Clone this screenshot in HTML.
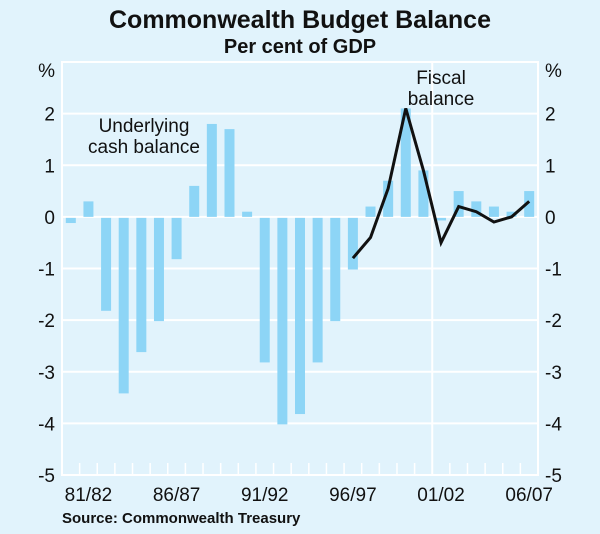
<!DOCTYPE html>
<html><head><meta charset="utf-8"><style>
body{margin:0;background:#e1f3fc;}
svg{display:block;font-family:"Liberation Sans",Arial,sans-serif;}
</style></head><body>
<svg id="c" width="600" height="534">
<rect width="600" height="534" fill="#e1f3fc"/>
<text x="300" y="28" text-anchor="middle" font-size="25" font-weight="bold" fill="#111">Commonwealth Budget Balance</text>
<text x="300" y="53" text-anchor="middle" font-size="20" font-weight="bold" fill="#111">Per cent of GDP</text>
<g id="grid"></g><g id="bars"></g><g id="line"></g><g id="axes"></g>
<text x="144" y="132" text-anchor="middle" font-size="19" fill="#111">Underlying</text>
<text x="144" y="153" text-anchor="middle" font-size="19" fill="#111">cash balance</text>
<text x="441" y="84" text-anchor="middle" font-size="19" fill="#111">Fiscal</text>
<text x="441" y="105" text-anchor="middle" font-size="19" fill="#111">balance</text>
<text x="62" y="523" font-size="15" font-weight="bold" fill="#111">Source: Commonwealth Treasury</text>
</svg>
<script>
const years = ["80/81","81/82","82/83","83/84","84/85","85/86","86/87","87/88","88/89","89/90","90/91","91/92","92/93","93/94","94/95","95/96","96/97","97/98","98/99","99/00","00/01","01/02","02/03","03/04","04/05","05/06","06/07"];
const cashBalance = [-0.1,0.3,-1.8,-3.4,-2.6,-2.0,-0.8,0.6,1.8,1.7,0.1,-2.8,-4.0,-3.8,-2.8,-2.0,-1.0,0.2,0.7,2.1,0.9,-0.05,0.5,0.3,0.2,0.1,0.5];
const fiscalStart = 16;
const fiscalBalance = [-0.8,-0.4,0.55,2.1,0.9,-0.5,0.2,0.1,-0.1,0,0.3];
const yTicks = [-5,-4,-3,-2,-1,0,1,2];
const xLabels = ["81/82","86/87","91/92","96/97","01/02","06/07"];
const NS="http://www.w3.org/2000/svg";
const L=62,R=538,T=62,B=475,ymin=-5,ymax=3;
const bw=(R-L)/years.length;
function xc(i){return L+bw*(i+0.5);}
function y(v){return B-(v-ymin)/(ymax-ymin)*(B-T);}
function mk(tag,attrs,parent){const e=document.createElementNS(NS,tag);for(const k in attrs)e.setAttribute(k,attrs[k]);document.getElementById(parent).appendChild(e);return e;}
const g=mk('rect',{x:L,y:T,width:R-L,height:B-T,fill:'none',stroke:'#fff','stroke-width':2},'grid');


yTicks.forEach(v=>{
  const l=mk('line',{x1:L,x2:R,y1:y(v),y2:y(v),stroke:'#fff','stroke-width':2},'grid');
  
  
  const a=mk('text',{x:L-7,y:y(v)+7,'text-anchor':'end','font-size':19,fill:'#111'},'axes');a.textContent=v;
  
  
  const b=mk('text',{x:R+7,y:y(v)+7,'font-size':19,fill:'#111'},'axes');b.textContent=v;
  
  
});
[["%",L-7,'end'],["%",R+7,'start']].forEach(p=>{const t=mk('text',{x:p[1],y:77,'text-anchor':p[2],'font-size':19,fill:'#111'},'axes');t.textContent=p[0];
  
  });
const vg=mk('line',{x1:L+bw*21,x2:L+bw*21,y1:T,y2:B,stroke:'#fff','stroke-width':2},'grid');


for(let i=1;i<years.length;i++){const t=mk('line',{x1:L+bw*i,x2:L+bw*i,y1:B-12,y2:B,stroke:'#fff','stroke-width':1.5},'grid');
  
  }
xLabels.forEach(s=>{const i=years.indexOf(s);const t=mk('text',{x:xc(i),y:501,'text-anchor':'middle','font-size':19,fill:'#111'},'axes');t.textContent=s;
  
  });
cashBalance.forEach((v,i)=>{
  const y0=y(0),yv=y(v);
  const r=mk('rect',{x:xc(i)-5,y:Math.min(y0,yv)+(v<0?1:0),width:10,height:Math.max(1,Math.abs(yv-y0)),fill:'#8dd5f6'},'bars');
  
  
});
const pts=fiscalBalance.map((v,i)=>xc(fiscalStart+i)+','+y(v)).join(' ');
const pl=mk('polyline',{points:pts,fill:'none',stroke:'#111','stroke-width':3,'stroke-linejoin':'miter'},'line');


</script>
</body></html>
